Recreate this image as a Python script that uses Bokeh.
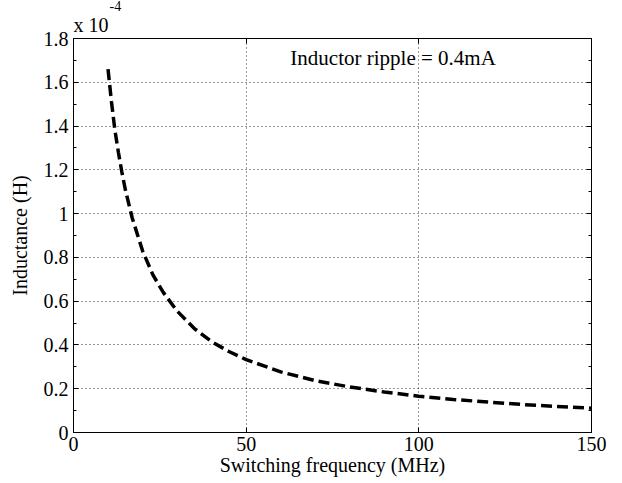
from bokeh.plotting import figure
from bokeh.models import (LinearAxis, FixedTicker, SingleIntervalTicker, Range1d,
                          CustomJSTickFormatter, Label, Title)
from bokeh.embed import file_html
from bokeh.resources import INLINE

# Data (inductance in units of 1e-4 H)
freq_mhz = [10, 11, 12, 13, 14, 15, 17, 20, 23, 26, 30, 35, 40, 45, 50,
            60, 70, 80, 90, 100, 110, 120, 130, 140, 150]
inductance_e4 = [1.66, 1.51, 1.38, 1.28, 1.19, 1.11, 0.98, 0.83, 0.72, 0.64,
                 0.555, 0.475, 0.415, 0.37, 0.333, 0.277, 0.237, 0.208, 0.185,
                 0.166, 0.151, 0.139, 0.128, 0.119, 0.111]
x_ticks = [0, 50, 100, 150]
annotation = "Inductor ripple = 0.4mA"
scale_base = "x 10"
scale_exp = "-4"

FONT = "Liberation Serif"
FS = "20px"

p = figure(width=622, height=483, output_backend="svg", toolbar_location=None,
           x_range=Range1d(0, 150), y_range=Range1d(0, 1.8), title_location=None,
           min_border_left=73, min_border_right=31, min_border_top=0,
           min_border_bottom=51, background_fill_color="white",
           border_fill_color="white", outline_line_color="black",
           outline_line_width=1)

xt = FixedTicker(ticks=x_ticks)
yt = SingleIntervalTicker(interval=0.2, num_minor_ticks=2)
yfmt = CustomJSTickFormatter(code="return tick.toFixed(1).replace(/\\.0$/, '');")
blank = CustomJSTickFormatter(code="return '';")

for ax in p.xaxis:
    ax.ticker = xt
    ax.axis_label = "Switching frequency (MHz)"
for ax in p.yaxis:
    ax.ticker = yt
    ax.formatter = yfmt
    ax.axis_label = "Inductance (H)"

for ax in list(p.xaxis) + list(p.yaxis):
    ax.major_tick_in = 5
    ax.major_tick_out = 0
    ax.minor_tick_in = 3
    ax.minor_tick_out = 0
    ax.axis_line_color = "black"
    ax.major_tick_line_color = "black"
    ax.minor_tick_line_color = "black"
    ax.major_label_text_font = FONT
    ax.major_label_text_font_size = FS
    ax.major_label_text_color = "black"
    ax.axis_label_text_font = FONT
    ax.axis_label_text_font_size = FS
    ax.axis_label_text_font_style = "normal"
    ax.axis_label_text_color = "black"
p.xaxis.minor_tick_line_color = None
p.xaxis.major_label_standoff = 4
p.xaxis.axis_label_standoff = 0
p.yaxis.major_label_standoff = 5
p.yaxis.axis_label_standoff = 10

right = LinearAxis(ticker=yt, formatter=blank, major_label_text_font_size="0px",
                   major_tick_in=5, major_tick_out=0, minor_tick_in=3, minor_tick_out=0)
top = LinearAxis(ticker=xt, formatter=blank, major_label_text_font_size="0px",
                 major_tick_in=5, major_tick_out=0, minor_tick_line_color=None)
p.add_layout(right, "right")
p.add_layout(top, "above")

p.add_layout(Title(text=scale_base, align="left", offset=0, standoff=5,
                   text_font=FONT, text_font_size=FS, text_font_style="normal",
                   text_color="black"), "above")
p.add_layout(Title(text=scale_exp, align="left", offset=36, standoff=-3,
                   text_font=FONT, text_font_size="14px", text_font_style="normal",
                   text_color="black"), "above")

for g in (p.xgrid, p.ygrid):
    g.grid_line_color = "black"
    g.grid_line_dash = "1 3"
    g.grid_line_width = 1
    g.grid_line_alpha = 0.8
p.xgrid.ticker = xt
p.ygrid.ticker = yt

p.line(freq_mhz, inductance_e4, line_color="black", line_width=3.5,
       line_dash="11 5")

p.add_layout(Label(x=62.8, y=1.71, text=annotation, text_font=FONT,
                   text_font_size="21px", text_color="black",
                   text_baseline="middle", text_align="left"))

open("out.html", "w").write(file_html(p, INLINE))
